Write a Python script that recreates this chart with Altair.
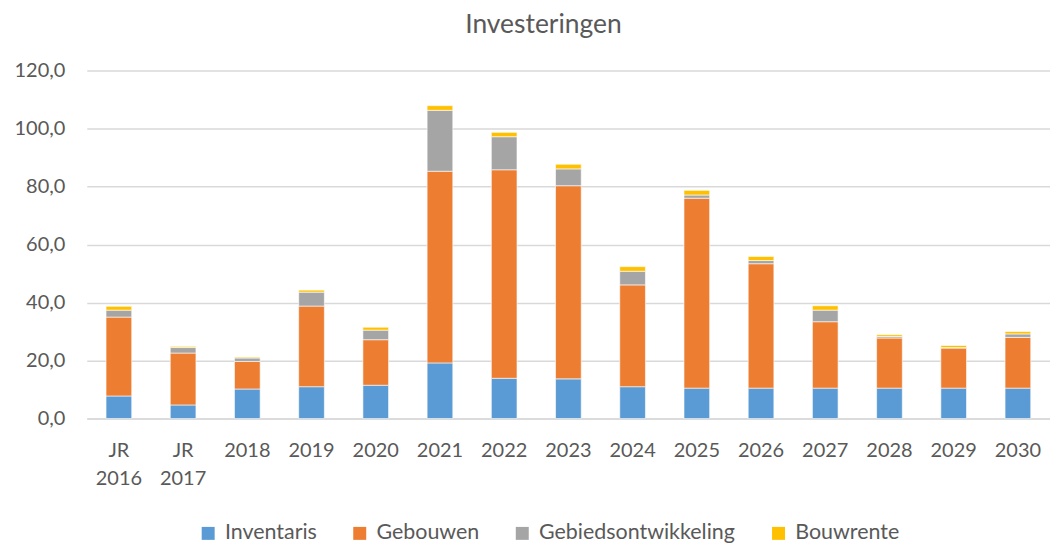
import altair as alt
import pandas as pd

years = ["JR 2016", "JR 2017", "2018", "2019", "2020", "2021", "2022", "2023",
         "2024", "2025", "2026", "2027", "2028", "2029", "2030"]
series = ["Inventaris", "Gebouwen", "Gebiedsontwikkeling", "Bouwrente"]
colors = ["#5B9BD5", "#ED7D31", "#A5A5A5", "#FFC000"]

inventaris = [7.8, 4.7, 10.2, 11.0, 11.5, 19.2, 13.9, 13.7, 11.0, 10.5, 10.5, 10.5, 10.5, 10.5, 10.5]
gebouwen = [27.2, 17.9, 9.5, 27.8, 15.7, 66.1, 71.9, 66.6, 35.1, 65.5, 42.9, 22.9, 17.3, 13.8, 17.5]
gebied = [2.4, 1.9, 1.2, 4.8, 3.3, 21.0, 11.4, 5.8, 4.7, 1.1, 1.1, 4.0, 0.5, 0.2, 1.2]
bouwrente = [1.3, 0.4, 0.3, 0.7, 1.0, 1.6, 1.5, 1.6, 1.6, 1.6, 1.4, 1.5, 0.6, 0.7, 0.8]

rows = []
for s_idx, (name, vals) in enumerate(zip(series, [inventaris, gebouwen, gebied, bouwrente])):
    for y, v in zip(years, vals):
        rows.append({"jaar": y, "reeks": name, "waarde": v, "ord": s_idx})
df = pd.DataFrame(rows)

FONT = "Lato"
TXT = "#595959"
GRID = "#D9D9D9"

chart = alt.Chart(df).mark_bar(stroke="white", strokeWidth=0.6).encode(
    x=alt.X("jaar:N", sort=years, title=None,
            scale=alt.Scale(paddingInner=0.6, paddingOuter=0.3),
            axis=alt.Axis(labelAngle=0, labelExpr="split(datum.label, ' ')",
                          labelLineHeight=28, labelPadding=22, ticks=False,
                          domainColor=GRID, domainWidth=1.5,
                          labelFontSize=20, labelColor=TXT, labelFont=FONT)),
    y=alt.Y("waarde:Q", stack="zero", title=None,
            scale=alt.Scale(domain=[0, 120], nice=False),
            axis=alt.Axis(values=[0, 20, 40, 60, 80, 100, 120],
                          labelExpr="replace(format(datum.value, '.1f'), '.', ',')",
                          domain=False, ticks=False, gridColor=GRID, gridWidth=1.5,
                          labelPadding=22, labelFontSize=20, labelColor=TXT, labelFont=FONT)),
    color=alt.Color("reeks:N", scale=alt.Scale(domain=series, range=colors),
                    legend=alt.Legend(title=None, orient="none", direction="horizontal",
                                      columns=4, legendX=111, legendY=453,
                                      padding=0, labelLimit=400,
                                      symbolType="square", symbolSize=169,
                                      symbolStrokeWidth=0, labelFontSize=21.5,
                                      labelColor=TXT, labelFont=FONT, labelOffset=6,
                                      columnPadding=32)),
    order=alt.Order("ord:Q", sort="ascending"),
).properties(
    width=966, height=349,
    autosize=alt.AutoSizeParams(type="none"),
    padding={"left": 79, "top": 62, "right": 0, "bottom": 125},
    title=alt.TitleParams("Investeringen", fontSize=26.5, font=FONT, color=TXT,
                          fontWeight="normal", offset=22, dx=-25),
).configure_view(stroke=None)

chart.save("out.html", embed_options={"renderer": "svg", "actions": False})
